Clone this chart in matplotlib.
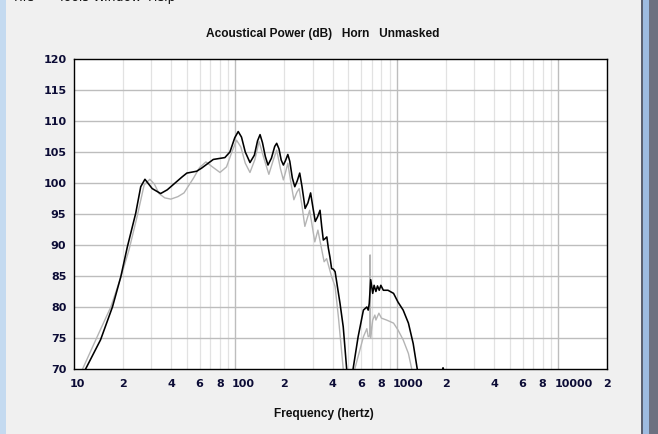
import matplotlib
matplotlib.use("Agg")
import matplotlib.pyplot as plt
import matplotlib.transforms as mtransforms
from matplotlib.patches import Rectangle
from matplotlib.ticker import FixedLocator, NullFormatter

# Horn response (Hz, dB)
black_f = [10, 11.8, 14.6, 17.3, 19.5, 21.4, 24.1, 25.9, 27.5, 30.5, 34.4, 37.8, 46.8, 50,
           57.5, 61.7, 72.9, 86, 92.4, 99, 104, 109, 115, 123, 131, 137, 142, 147, 153, 159,
           167, 175, 180, 186, 192, 198, 204, 211, 217, 225, 233, 241, 250, 258, 270, 281,
           292, 302, 312, 322, 334, 342, 350, 358, 368, 376, 385, 394, 404, 414, 444, 465,
           488, 505, 520, 535, 575, 620, 651, 664, 674, 688, 708, 722, 741, 758, 777, 795,
           824, 880, 953, 1015, 1093, 1178, 1261, 1336, 1450, 1900, 1930, 1960, 2100]
black_db = [67.5, 70, 74.7, 80, 84.9, 89.7, 95.1, 99.4, 100.6, 99.1, 98.3, 98.9, 101.0, 101.6,
            101.9, 102.4, 103.8, 104.1, 105.0, 107.3, 108.3, 107.4, 105.0, 103.3, 104.5, 106.8,
            107.8, 106.5, 104.3, 102.9, 104.0, 105.9, 106.4, 105.5, 103.7, 102.9, 103.6, 104.6,
            103.5, 100.8, 99.4, 100.3, 101.6, 99.5, 95.9, 96.8, 98.4, 96.0, 93.8, 94.5, 95.6,
            93.0, 90.8, 91.0, 91.3, 89.5, 88.0, 86.2, 86.1, 85.7, 80.6, 76.8, 70.1, 66, 66, 70,
            75.2, 79.5, 80.0, 79.5, 80.6, 84.4, 82.2, 83.5, 82.5, 83.4, 82.7, 83.5, 82.7, 82.7,
            82.2, 80.8, 79.5, 77.4, 74.1, 70, 64, 69.6, 70.2, 69.6, 64]

gray_f = [10, 11.3, 14.2, 16.9, 19.5, 21.9, 24.6, 27.2, 29.5, 31.5, 33.6, 36.5, 39.8, 44, 48,
          55, 60, 65.6, 72, 80.2, 88, 95, 101.6, 108, 115, 123, 132, 140, 150, 161, 172, 180,
          190, 198, 205, 211, 220, 230, 240, 248, 258, 269, 288, 310, 324, 354, 367, 394, 414,
          434, 465, 500, 530, 548, 590, 620, 651, 664, 679, 682, 686, 688, 708, 730, 741, 773,
          802, 862, 953, 1015, 1093, 1178, 1235, 1300]
gray_db = [67.8, 70, 75.7, 80, 84.8, 89.2, 94.6, 99.7, 100.6, 99.8, 98.3, 97.6, 97.4, 97.8,
           98.4, 100.8, 102.5, 103.4, 102.6, 101.7, 102.6, 105.0, 106.9, 105.8, 103.2, 101.7,
           103.8, 106.7, 104.0, 101.4, 103.8, 105.3, 102.3, 100.5, 101.9, 103.2, 100.2, 97.3,
           98.5, 99.1, 96.4, 93.0, 95.6, 90.5, 92.4, 87.3, 87.8, 84.9, 83.3, 78.4, 70, 65, 65,
           70, 73.1, 75.2, 76.5, 75.2, 75.4, 88.4, 75.0, 75.2, 77.9, 78.7, 77.9, 79.0, 78.2,
           77.9, 77.4, 76.3, 74.7, 72.5, 70, 64]

y_ticks = [70, 75, 80, 85, 90, 95, 100, 105, 110, 115, 120]
x_labeled = [10, 20, 40, 60, 80, 100, 200, 400, 600, 800, 1000, 2000, 4000, 6000, 8000,
             10000, 20000]
x_names = ['10', '2', '4', '6', '8', '100', '2', '4', '6', '8', '1000', '2', '4', '6', '8',
           '10000', '2']
x_decades = [100, 1000, 10000]
x_minor = [m * d for d in [10, 100, 1000] for m in range(2, 10)] + [20000]

bg = '#f0f0f0'
txt = '#0c0c36'

fig = plt.figure(figsize=(6.58, 4.34), dpi=100, facecolor=bg)

# window chrome
fig.patches.append(Rectangle((0, 0), 6 / 658, 1, transform=fig.transFigure,
                             facecolor='#c4daf0', edgecolor='none'))
fig.patches.append(Rectangle((641 / 658, 0), 2 / 658, 1, transform=fig.transFigure,
                             facecolor='#5a6070', edgecolor='none'))
fig.patches.append(Rectangle((643 / 658, 0), 6 / 658, 1, transform=fig.transFigure,
                             facecolor='#9dbbe0', edgecolor='none'))
fig.patches.append(Rectangle((649 / 658, 0), 9 / 658, 1, transform=fig.transFigure,
                             facecolor='#6c7080', edgecolor='none'))
for name, xp in [('File', 14), ('Tools', 58), ('Window', 93), ('Help', 148)]:
    fig.text(xp / 658, 1.006, name, fontsize=9, color='#101010', va='center', ha='left')

ax = fig.add_axes([74 / 658, 1 - 369 / 434, 533 / 658, 310 / 434])
ax.set_facecolor('white')
ax.set_xscale('log')
ax.set_xlim(10, 20000)
ax.set_ylim(70, 120)

for v in x_minor:
    ax.axvline(v, color='#e2e2e2', lw=0.9, zorder=0)
for v in x_decades:
    ax.axvline(v, color='#bdbdbd', lw=1.0, zorder=0)
for v in y_ticks[1:-1]:
    ax.axhline(v, color='#bdbdbd', lw=1.0, zorder=0)

ax.plot(gray_f, gray_db, color='#b4b4b4', lw=1.0, zorder=2)
ax.plot(black_f, black_db, color='black', lw=1.15, zorder=3)

ax.xaxis.set_major_locator(FixedLocator(x_labeled))
ax.xaxis.set_minor_locator(FixedLocator([]))
ax.xaxis.set_minor_formatter(NullFormatter())
ax.set_xticklabels(x_names)
ax.set_yticks(y_ticks)
ax.tick_params(length=0, labelsize=8, labelcolor=txt)
ax.tick_params(axis='y', pad=5.5)
ax.tick_params(axis='x', pad=7)
for lab in ax.get_yticklabels():
    lab.set_fontweight('bold')
# first digit of each frequency label sits on its grid line
shift = mtransforms.ScaledTranslation(-3.9 / 100, 0, fig.dpi_scale_trans)
for lab in ax.get_xticklabels():
    lab.set_fontweight('bold')
    lab.set_horizontalalignment('left')
    lab.set_transform(lab.get_transform() + shift)

for s in ax.spines.values():
    s.set_color('black')
    s.set_linewidth(1.0)

fig.text(323 / 658, 1 - 34 / 434, 'Acoustical Power (dB)   Horn   Unmasked',
         fontsize=8.6, fontweight='bold', family='Liberation Sans', color='#101010',
         ha='center', va='center')
fig.text(324 / 658, 1 - 414 / 434, 'Frequency (hertz)',
         fontsize=8.6, fontweight='bold', family='Liberation Sans', color='#101010',
         ha='center', va='center')

fig.savefig('out.png', dpi=100, facecolor=bg)
